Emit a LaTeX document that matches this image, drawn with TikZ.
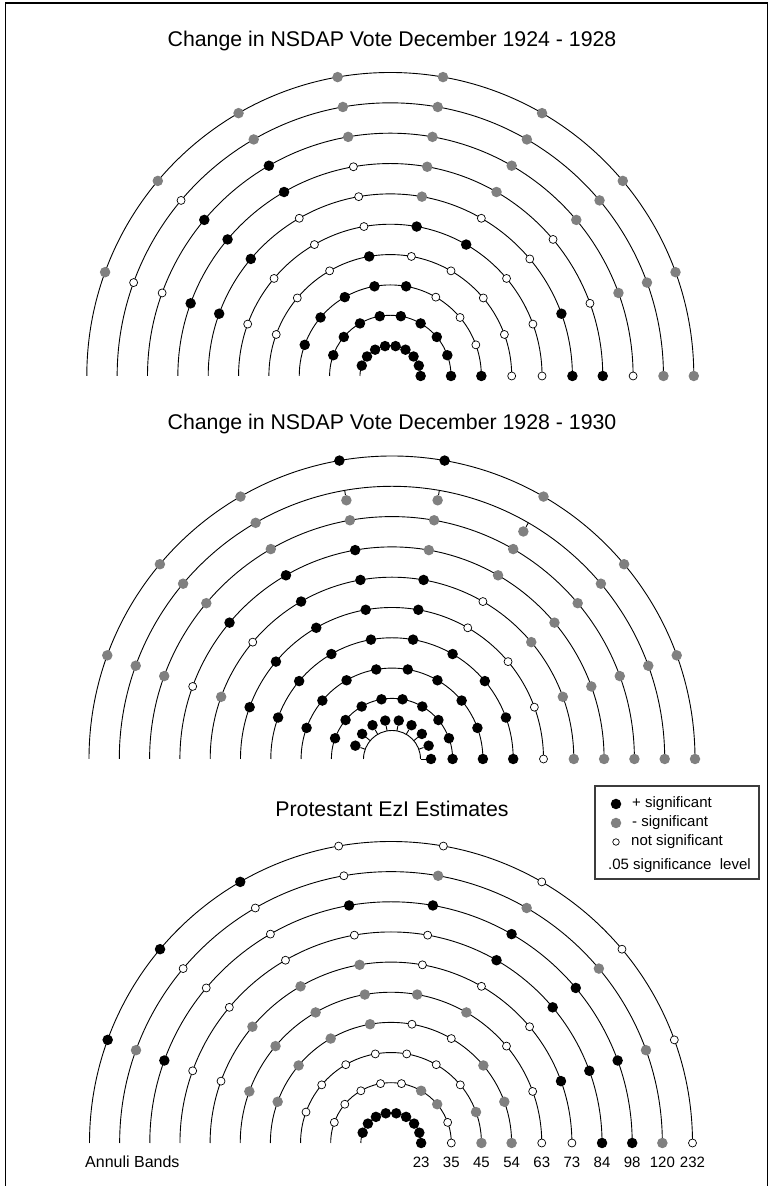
\documentclass[tikz,border=0pt]{standalone}
\usepackage{fontspec}
\setmainfont{Liberation Sans}
\definecolor{dotgray}{RGB}{128,128,128}
\definecolor{keyframe}{RGB}{60,60,60}
\tikzset{
  ring/.style={line width=0.9pt},
  dotb/.style={circle,fill=black,inner sep=0pt,minimum size=10.5pt},
  dotg/.style={circle,fill=dotgray,inner sep=0pt,minimum size=10.5pt},
  dotw/.style={circle,draw=black,fill=white,line width=0.7pt,inner sep=0pt,minimum size=8pt},
  title/.style={font=\fontsize{21.3}{25}\selectfont,anchor=base,inner sep=0pt},
  keytext/.style={font=\fontsize{15}{18}\selectfont,anchor=base west,inner sep=0pt},
  band/.style={font=\fontsize{15}{18}\selectfont,anchor=base,inner sep=0pt}
}
\begin{document}
\begin{tikzpicture}[x=1pt,y=1pt]
\useasboundingbox (0,0) rectangle (769,1186);
\draw [line width=1.2pt] (5.5,0) -- (5.5,1183) -- (767.5,1183) -- (767.5,0);

\node [title] (title1) at (392,1139) {Change in NSDAP Vote December 1924 - 1928};
\node [title] (title2) at (392,756) {Change in NSDAP Vote December 1928 - 1930};
\node [title] (title3) at (392,369) {Protestant EzI Estimates};

\begin{scope}[shift={(390.3,810)}]
\def\rr{30.35}
\foreach \k/\cols in {1/{b,b,b,b,b,b,b,b,b},2/{b,b,b,b,b,b,b,b,b},3/{b,w,w,w,b,b,b,b,b},
    4/{w,w,w,w,w,b,w,w,w},5/{w,w,w,b,b,w,w,w,w},6/{b,b,w,w,g,w,w,b,b},
    7/{b,w,w,g,g,w,b,b,b},8/{w,g,g,g,g,g,b,b,w},9/{g,g,g,g,g,g,g,w,w},
    10/{g,g,g,g,g,g,g,g,g}}{
  \draw [ring] (\k*\rr,0) arc [start angle=0,end angle=180,radius=\k*\rr];
  \foreach \c [count=\j from 0] in \cols
    \node [dot\c] (a\k-\j) at (\j*20:\k*\rr) {};
}
\end{scope}

\begin{scope}[shift={(392,427)}]
\def\rr{30.3}
\foreach \k/\cols in {2/{b,b,b,b,b,b,b,b,b},3/{b,b,b,b,b,b,b,b,b},4/{b,b,b,b,b,b,b,b,b},
    5/{w,w,w,w,b,b,b,b,b},6/{g,g,g,w,b,b,b,w,g},7/{g,g,g,g,g,b,b,b,w},
    8/{g,g,g,g,g,g,g,g,g},10/{g,g,g,g,b,b,g,g,g}}{
  \draw [ring] (\k*\rr,0) arc [start angle=0,end angle=180,radius=\k*\rr];
  \foreach \c [count=\j from 0] in \cols
    \node [dot\c] (b\k-\j) at (\j*20:\k*\rr) {};
}
\draw [ring] (28.5,0) arc [start angle=0,end angle=180,radius=28.5];
\foreach \a in {0,20,...,160} {
  \coordinate (s1-\a) at (\a:28.5);
  \node [dotb] (h1-\a) at (\a:39) {};
  \draw [ring] (s1-\a) -- (h1-\a);
}
\draw [ring] (9*\rr,0) arc [start angle=0,end angle=180,radius=9*\rr];
\foreach \a in {0,20,40,120,140,160}
  \node [dotg] (h9-\a) at (\a:9*\rr) {};
\foreach \a in {60,80,100} {
  \coordinate (s9-\a) at (\a:9*\rr);
  \node [dotg] (h9-\a) at (\a:9*\rr-10) {};
  \draw [ring] (s9-\a) -- (h9-\a);
}
\end{scope}

\begin{scope}[shift={(391,43)}]
\def\rr{30.15}
\foreach \k/\cols in {1/{b,b,b,b,b,b,b,b,b},2/{w,w,g,g,w,w,w,w,w},3/{g,g,w,w,w,w,w,w,w},
    4/{g,g,g,w,w,g,g,g,g},5/{w,w,w,g,g,g,g,g,g},6/{w,b,w,w,w,g,g,g,w},
    7/{b,b,b,b,w,w,w,w,w},8/{b,b,b,b,b,b,w,w,b},9/{g,g,g,g,g,w,w,w,g},
    10/{w,w,w,w,w,w,b,b,b}}{
  \draw [ring] (\k*\rr,0) arc [start angle=0,end angle=180,radius=\k*\rr];
  \foreach \c [count=\j from 0] in \cols
    \node [dot\c] (c\k-\j) at (\j*20:\k*\rr) {};
}
\foreach \k/\lbl in {1/23,2/35,3/45,4/54,5/63,6/73,7/84,8/98,9/120,10/232}
  \node [band] (n\k) at (\k*\rr,-24) {\lbl};
\end{scope}
\node [keytext,font=\fontsize{16}{19}\selectfont] (annuli) at (85,18) {Annuli Bands};

\node [draw=keyframe,line width=1.1pt,minimum width=164pt,minimum height=93pt,inner sep=0pt] (key) at (677,353.5) {};
\node [dotb] (kpos) at (616,382) {};
\node [dotg] (kneg) at (616,363) {};
\node [dotw,minimum size=6.5pt] (knot) at (616,344) {};
\node [keytext] (tpos) at (632,378) {+ significant};
\node [keytext] (tneg) at (632,359) {- significant};
\node [keytext] (tnot) at (631,340) {not significant};
\node [keytext] (tlev) at (608,316) {.05 significance\ \ level};
\end{tikzpicture}
\end{document}
